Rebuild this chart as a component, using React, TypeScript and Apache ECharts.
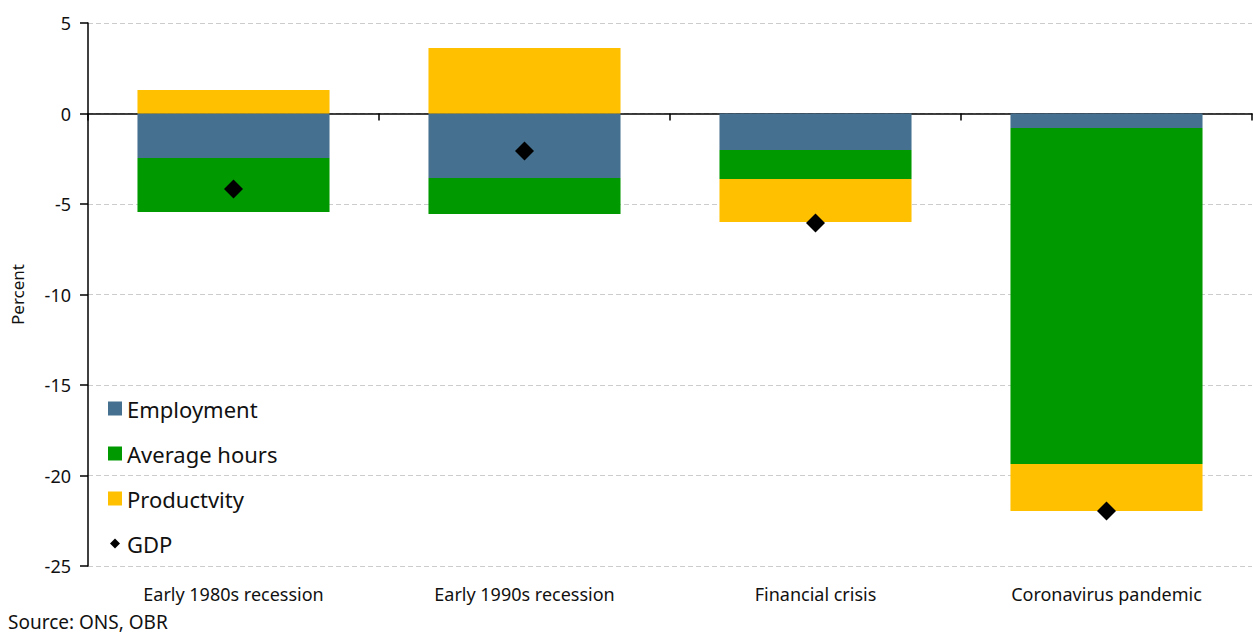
import React, { useEffect, useRef } from "react";
import * as echarts from "echarts";

const categories = [
  "Early 1980s recession",
  "Early 1990s recession",
  "Financial crisis",
  "Coronavirus pandemic",
];
const employment = [-2.46, -3.56, -2.02, -0.8];
const averageHours = [-2.98, -1.99, -1.6, -18.56];
const productivity = [1.3, 3.62, -2.37, -2.6];
const gdp = [-4.17, -2.07, -6.05, -21.96];
const yTicks = { min: -25, max: 5, interval: 5 };

const FONT = "'Noto Sans', sans-serif";

export default function App() {
  const ref = useRef<HTMLDivElement>(null);
  useEffect(() => {
    document.body.style.margin = "0";
    const chart = echarts.init(ref.current!, null, { renderer: "svg" });
    chart.setOption({
      animation: false,
      textStyle: { fontFamily: FONT },
      grid: { left: 88, right: 1, top: 23, bottom: 69, containLabel: false, outerBoundsMode: "none" },
      legend: {
        orient: "vertical",
        left: 103,
        top: 392,
        itemWidth: 14,
        itemHeight: 14,
        itemGap: 22,
        textStyle: { fontSize: 22, color: "#111", lineHeight: 23, fontFamily: FONT },
        data: [
          { name: "Employment", icon: "rect" },
          { name: "Average hours", icon: "rect" },
          { name: "Productvity", icon: "rect" },
          { name: "GDP", icon: "path://M0,0 M14,14 M7,2 L12,7 L7,12 L2,7 Z" },
        ],
      },
      xAxis: [
        {
          type: "category",
          data: categories,
          position: "bottom",
          axisLine: { onZero: true, lineStyle: { color: "#000", width: 1.5 } },
          axisTick: { show: true, length: 7, lineStyle: { color: "#000", width: 1.5 } },
          axisLabel: { show: false },
          splitLine: { show: false },
        },
        {
          type: "category",
          data: categories,
          position: "bottom",
          axisLine: { show: false, onZero: false },
          axisTick: { show: false },
          axisLabel: { show: true, fontSize: 18, color: "#111", margin: 19, fontFamily: FONT },
          splitLine: { show: false },
        },
      ],
      yAxis: {
        type: "value",
        min: yTicks.min,
        max: yTicks.max,
        interval: yTicks.interval,
        name: "Percent",
        nameLocation: "middle",
        nameGap: 62,
        nameRotate: 90,
        nameTextStyle: { fontSize: 17, color: "#111", fontFamily: FONT },
        axisLine: { show: true, lineStyle: { color: "#000", width: 1.5 } },
        axisTick: { show: true, length: 8, lineStyle: { color: "#000", width: 1.5 } },
        axisLabel: { fontSize: 18, color: "#111", margin: 17, fontFamily: FONT },
        splitLine: { show: true, lineStyle: { color: "#cccccc", type: [5, 3], width: 1 } },
      },
      series: [
        {
          name: "Employment",
          type: "bar",
          stack: "total",
          barWidth: "66%",
          data: employment,
          itemStyle: { color: "#46708f" },
        },
        {
          name: "Average hours",
          type: "bar",
          stack: "total",
          barWidth: "66%",
          data: averageHours,
          itemStyle: { color: "#009900" },
        },
        {
          name: "Productvity",
          type: "bar",
          stack: "total",
          barWidth: "66%",
          data: productivity,
          itemStyle: { color: "#ffc000" },
        },
        {
          name: "GDP",
          type: "scatter",
          data: gdp,
          symbol: "diamond",
          symbolSize: [19, 19],
          itemStyle: { color: "#000", opacity: 1 },
          z: 5,
        },
      ],
      graphic: [
        {
          type: "text",
          left: 8,
          top: 612,
          style: { text: "Source: ONS, OBR", fontSize: 19, fill: "#111", fontFamily: FONT },
        },
      ],
    });
    return () => chart.dispose();
  }, []);
  return <div ref={ref} style={{ width: 1253, height: 635 }} />;
}
